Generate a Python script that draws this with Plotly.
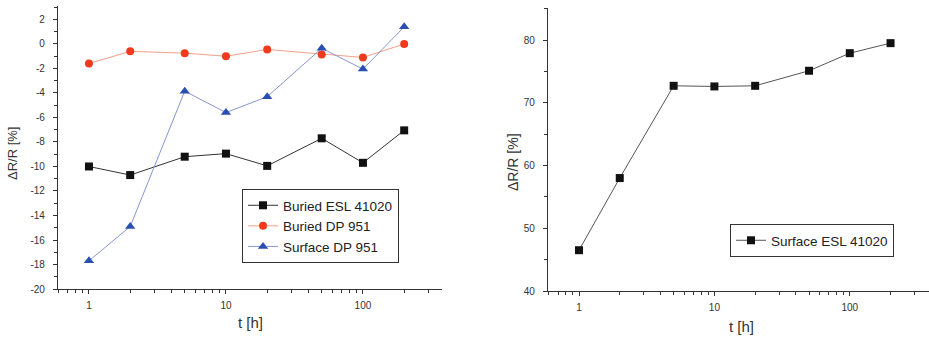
import plotly.graph_objects as go

t_hours = [1, 2, 5, 10, 20, 50, 100, 200]
buried_esl = [-10.0, -10.7, -9.2, -8.95, -9.95, -7.7, -9.7, -7.05]
buried_dp = [-1.6, -0.6, -0.75, -1.0, -0.45, -0.85, -1.1, 0.0]
surface_dp = [-17.7, -14.9, -3.85, -5.6, -4.3, -0.35, -2.05, 1.4]
surface_esl = [46.5, 58.0, 72.7, 72.6, 72.7, 75.1, 77.9, 79.5]

left_yticks = list(range(-20, 3, 2))
right_yticks = [40, 50, 60, 70, 80]
x_ticks = [1, 10, 100]
x_minor = [v * m for m in (0.1, 1, 10, 100) for v in range(2, 10)]

FONT = "Liberation Sans, Arial, sans-serif"
W, H = 929, 338

fig = go.Figure()
fig.add_trace(go.Scatter(x=t_hours, y=buried_esl, name="Buried ESL 41020", mode="lines+markers",
                         line=dict(color="#333333", width=1), marker=dict(symbol="square", size=8, color="#111111"),
                         xaxis="x", yaxis="y", legend="legend"))
fig.add_trace(go.Scatter(x=t_hours, y=buried_dp, name="Buried DP 951", mode="lines+markers",
                         line=dict(color="#f3a08a", width=1), marker=dict(symbol="circle", size=8, color="#f03a1e"),
                         xaxis="x", yaxis="y", legend="legend"))
fig.add_trace(go.Scatter(x=t_hours, y=surface_dp, name="Surface DP 951", mode="lines+markers",
                         line=dict(color="#8a95d0", width=1), marker=dict(symbol="triangle-up", size=9, color="#2a4fb0"),
                         xaxis="x", yaxis="y", legend="legend"))
fig.add_trace(go.Scatter(x=t_hours, y=surface_esl, name="Surface ESL 41020", mode="lines+markers",
                         line=dict(color="#555555", width=1), marker=dict(symbol="square", size=8, color="#111111"),
                         xaxis="x2", yaxis="y2", legend="legend2"))

axis_common = dict(showline=True, linecolor="#333333", linewidth=1.3, showgrid=False, zeroline=False,
                   ticks="outside", ticklen=4, tickcolor="#333333", automargin=False,
                   tickfont=dict(family=FONT, size=10, color="#333333"))

xa = dict(axis_common, type="log", tickvals=x_ticks, ticktext=[str(v) for v in x_ticks], ticklabelstandoff=3,
          minor=dict(tickvals=x_minor, ticks="outside", ticklen=3, tickcolor="#333333"))

left_dom_x = [58 / W, 442 / W]
right_dom_x = [548 / W, 1.0]

title_font = dict(family=FONT, color="#333333")

fig.update_layout(
    width=W, height=H, margin=dict(l=0, r=0, t=0, b=0),
    paper_bgcolor="white", plot_bgcolor="white",
    showlegend=True,
    xaxis=dict(xa, domain=left_dom_x, range=[-0.226, 2.577], anchor="y"),
    yaxis=dict(axis_common, domain=[(H - 289) / H, (H - 6) / H], range=[-20, 3.1], anchor="x",
               tickvals=left_yticks, ticktext=[str(v) for v in left_yticks], ticklabelstandoff=6,
               minor=dict(dtick=1, ticks="outside", ticklen=3, tickcolor="#333333")),
    xaxis2=dict(xa, domain=right_dom_x, range=[-0.229, 2.585], anchor="y2"),
    yaxis2=dict(axis_common, domain=[(H - 291) / H, (H - 8) / H], range=[40, 85.1], anchor="x2",
                tickvals=right_yticks, ticktext=[str(v) for v in right_yticks], ticklabelstandoff=6,
                minor=dict(dtick=5, ticks="outside", ticklen=3, tickcolor="#333333")),
    legend=dict(x=242 / W, y=(H - 189) / H, xanchor="left", yanchor="top", bordercolor="#333333", borderwidth=1,
                bgcolor="white", font=dict(family=FONT, size=13.5, color="#222222"), tracegroupgap=0,
                itemwidth=30),
    legend2=dict(x=730 / W, y=(H - 224) / H, xanchor="left", yanchor="top", bordercolor="#333333", borderwidth=1,
                 bgcolor="white", font=dict(family=FONT, size=13.5, color="#222222"), itemwidth=30),
    annotations=[
        dict(text="ΔR/R [%]", x=12 / W, y=(H - 154) / H, xref="paper", yref="paper", textangle=-90,
             xanchor="center", yanchor="middle", showarrow=False, font=dict(title_font, size=13)),
        dict(text="t [h]", x=250 / W, y=(H - 322) / H, xref="paper", yref="paper",
             xanchor="center", yanchor="middle", showarrow=False, font=dict(title_font, size=15)),
        dict(text="ΔR/R [%]", x=513 / W, y=(H - 162) / H, xref="paper", yref="paper", textangle=-90,
             xanchor="center", yanchor="middle", showarrow=False, font=dict(title_font, size=14)),
        dict(text="t [h]", x=741 / W, y=(H - 326) / H, xref="paper", yref="paper",
             xanchor="center", yanchor="middle", showarrow=False, font=dict(title_font, size=15)),
    ],
)

fig.write_html("out.html", config={"displayModeBar": False},
               post_script="document.body.style.margin='0';document.body.style.overflow='hidden';")
